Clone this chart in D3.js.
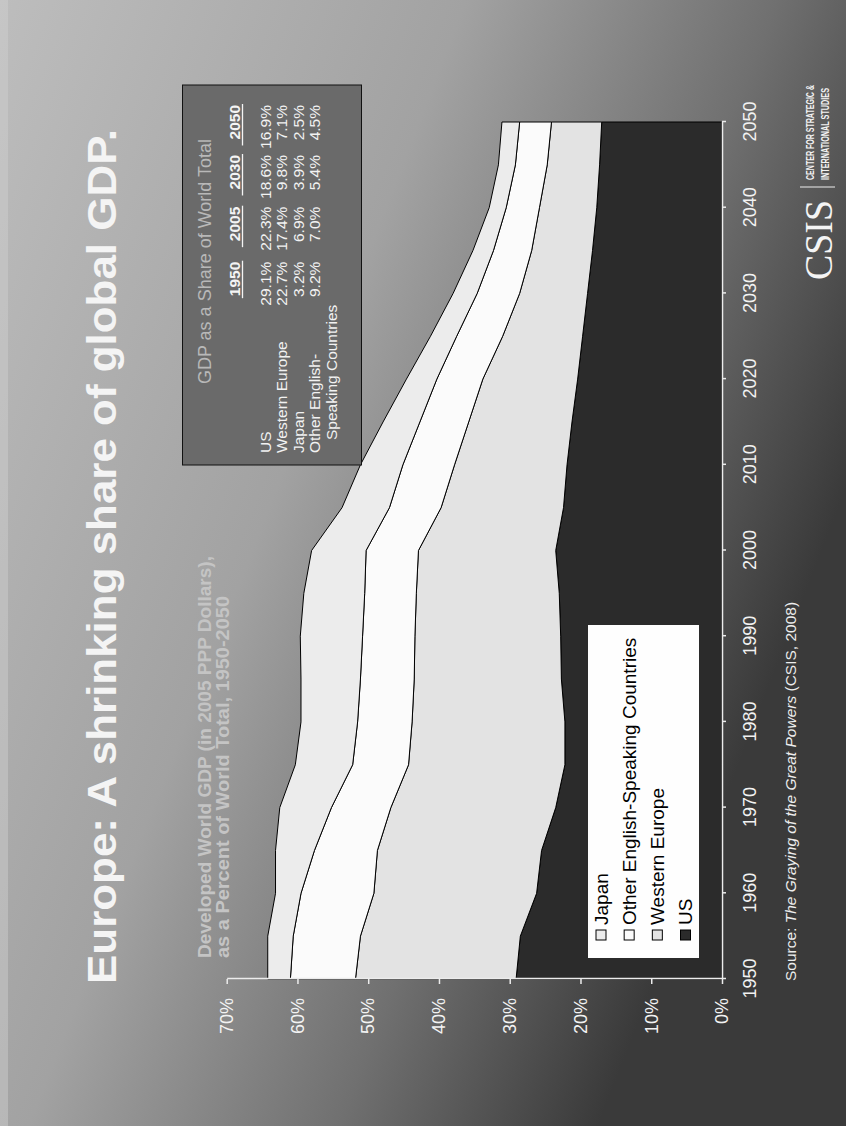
<!DOCTYPE html>
<html><head><meta charset="utf-8">
<script src="https://cdn.jsdelivr.net/npm/d3@7/dist/d3.min.js"></script>
<style>
html,body{margin:0;padding:0;background:#888;}
svg{display:block;}
text{font-family:"Liberation Sans",Arial,Helvetica,sans-serif;}
</style></head><body>
<svg id="c" width="846" height="1126"></svg>
<script>
// ---- data (share of world GDP, %) ----
const years = [1950,1955,1960,1965,1970,1975,1980,1985,1990,1995,2000,2005,2010,2015,2020,2025,2030,2035,2040,2045,2050];
const usShare            = [29.1,28.5,26.2,25.5,23.5,22.2,22.2,22.7,22.8,23.0,23.5,22.4,21.9,21.2,20.4,19.7,19.0,18.3,17.7,17.3,17.0];
const westernEuropeShare = [22.7,22.6,23.0,23.2,23.3,22.1,21.6,20.8,20.6,20.2,19.4,17.3,15.9,14.6,13.4,11.3,9.6,8.6,8.1,7.4,7.1];
const otherEnglishShare  = [9.2,9.5,10.3,8.9,8.4,7.9,7.7,7.6,7.4,7.3,7.4,7.3,7.3,6.9,6.5,6.5,6.0,5.4,4.7,4.5,4.5];
const japanShare         = [3.2,3.6,3.6,5.5,7.3,8.1,8.0,8.4,8.8,8.6,7.7,6.7,6.0,5.2,4.3,3.7,3.4,2.9,2.4,2.4,2.5];
const seriesKeys   = ["US","Western Europe","Other English-Speaking Countries","Japan"];
const legendOrder  = ["Japan","Other English-Speaking Countries","Western Europe","US"];
const yTicks = [0,10,20,30,40,50,60,70];
const xTicks = [1950,1960,1970,1980,1990,2000,2010,2020,2030,2040,2050];
const tableYears = ["1950","2005","2030","2050"];
const tableRows = [
  {label:["US"], values:["29.1%","22.3%","18.6%","16.9%"]},
  {label:["Western Europe"], values:["22.7%","17.4%","9.8%","7.1%"]},
  {label:["Japan"], values:["3.2%","6.9%","3.9%","2.5%"]},
  {label:["Other English-","Speaking Countries"], values:["9.2%","7.0%","5.4%","4.5%"]}
];

const W = 846, H = 1126;
const fills = {"US":"#2b2b2b","Western Europe":"#e3e3e3","Other English-Speaking Countries":"#fbfbfb","Japan":"#ececec"};

const svg = d3.select("#c");
const defs = svg.append("defs");
const g = defs.append("linearGradient").attr("id","bg").attr("gradientUnits","userSpaceOnUse")
  .attr("x1",0).attr("y1",0).attr("x2",900).attr("y2",350);
[[0,"#bdbdbd"],[0.45,"#a2a2a2"],[0.75,"#707070"],[1,"#3a3a3a"]].forEach(s=>g.append("stop").attr("offset",s[0]).attr("stop-color",s[1]));
svg.append("rect").attr("width",W).attr("height",H).attr("fill","url(#bg)");
svg.append("rect").attr("x",0).attr("y",0).attr("width",8).attr("height",H).attr("fill","#d0d0d0").attr("opacity",0.45);

// landscape slide, rotated
const slide = svg.append("g").attr("transform",`translate(0,${H}) rotate(-90)`);

const x = d3.scaleLinear().domain([1950,2050]).range([147,1004]);
const y = d3.scaleLinear().domain([0,70]).range([722,226.7]);

// title
slide.append("text").attr("x",142).attr("y",116).attr("font-size",40).attr("font-weight","bold")
  .attr("fill","#f4f4f4").attr("textLength",855).attr("lengthAdjust","spacingAndGlyphs")
  .text("Europe: A shrinking share of global GDP.");
const sub = slide.append("g").attr("fill","#c4c4c4").attr("font-size",17.5).attr("font-weight","bold");
sub.append("text").attr("x",168).attr("y",211).attr("textLength",402).attr("lengthAdjust","spacingAndGlyphs").text("Developed World GDP (in 2005 PPP Dollars),");
sub.append("text").attr("x",168).attr("y",229).attr("textLength",362).attr("lengthAdjust","spacingAndGlyphs").text("as a Percent of World Total, 1950-2050");

// stacked areas
const rows = years.map((yr,i)=>({year:yr,"US":usShare[i],"Western Europe":westernEuropeShare[i],
  "Other English-Speaking Countries":otherEnglishShare[i],"Japan":japanShare[i]}));
const stacked = d3.stack().keys(seriesKeys)(rows);
const area = d3.area().x(d=>x(d.data.year)).y0(d=>y(d[0])).y1(d=>y(d[1]));
slide.append("g").selectAll("path").data(stacked).join("path")
  .attr("d",area).attr("fill",d=>fills[d.key]).attr("stroke","#000").attr("stroke-width",1)
  .attr("stroke-linejoin","round");

// axes
const yAxis = d3.axisLeft(y).tickValues(yTicks).tickFormat(d=>d+"%").tickSize(5).tickSizeOuter(0).tickPadding(14);
const ya = slide.append("g").attr("transform","translate(147,0)").call(yAxis);
const xAxis = d3.axisBottom(x).tickValues(xTicks).tickFormat(d3.format("d")).tickSize(4).tickSizeOuter(0).tickPadding(17);
const xa = slide.append("g").attr("transform","translate(0,722)").call(xAxis);
[ya,xa].forEach(a=>{
  a.select(".domain").attr("stroke","#ececec").attr("stroke-width",1.5);
  a.selectAll(".tick line").attr("stroke","#ececec").attr("stroke-width",1.5);
  a.selectAll(".tick text").attr("fill","#f2f2f2").attr("font-size",18).attr("font-family",null);
});

// legend
const lg = slide.append("g");
lg.append("rect").attr("x",168).attr("y",588).attr("width",333).attr("height",111).attr("fill","#fefefe");
const legY = d3.scalePoint().domain(legendOrder).range([601,685.5]);
legendOrder.forEach(k=>{
  lg.append("rect").attr("x",186).attr("y",legY(k)-5).attr("width",10).attr("height",10)
    .attr("fill",fills[k]).attr("stroke","#000").attr("stroke-width",1);
  lg.append("text").attr("x",201).attr("y",legY(k)).attr("dy","0.36em").attr("font-size",19).attr("fill","#000").text(k);
});

// table box
const tb = slide.append("g");
tb.append("rect").attr("x",661).attr("y",182.5).attr("width",380).attr("height",179).attr("fill","#6a6a6a").attr("stroke","#111").attr("stroke-width",1);
tb.append("text").attr("x",864.5).attr("y",211).attr("text-anchor","middle").attr("font-size",18).attr("fill","#b8b8b8")
  .text("GDP as a Share of World Total");
const colX = [864.3,919.3,971,1021];
tableYears.forEach((t,i)=>{
  const tx = tb.append("text").attr("x",colX[i]).attr("y",240).attr("text-anchor","end").attr("font-size",15.5)
    .attr("font-weight","bold").attr("fill","#f4f4f4").text(t);
  const w = tx.node().getComputedTextLength();
  tb.append("line").attr("x1",colX[i]-w-(i==0?2:6)).attr("x2",colX[i]+1).attr("y1",242.5).attr("y2",242.5)
    .attr("stroke","#f4f4f4").attr("stroke-width",1.3);
});
const rowY = [270.5,287,303.5,320];
tableRows.forEach((r,i)=>{
  r.label.forEach((l,j)=>tb.append("text").attr("x",j?686:673).attr("y",rowY[i]+j*16.7).attr("font-size",15.5).attr("fill","#f2f2f2").text(l));
  r.values.forEach((v,j)=>tb.append("text").attr("x",colX[j]).attr("y",rowY[i]).attr("text-anchor","end").attr("font-size",15.5).attr("fill","#f2f2f2").text(v));
});

// source
const src = slide.append("text").attr("x",145).attr("y",796).attr("font-size",15.5).attr("fill","#ededed");
src.append("tspan").text("Source: ");
src.append("tspan").attr("font-style","italic").text("The Graying of the Great Powers");
src.append("tspan").text(" (CSIS, 2008)");

// logo
slide.append("text").attr("x",846).attr("y",832).attr("font-size",40)
  .attr("fill","#f4f4f4").attr("textLength",80).attr("lengthAdjust","spacingAndGlyphs").style("font-family","'Liberation Serif',serif").text("CSIS");
slide.append("line").attr("x1",939).attr("x2",939).attr("y1",800).attr("y2",835).attr("stroke","#eee").attr("stroke-width",1.2);
slide.append("text").attr("x",946).attr("y",814).attr("font-size",11).attr("font-weight","bold").attr("fill","#f4f4f4")
  .attr("textLength",95).attr("lengthAdjust","spacingAndGlyphs").text("CENTER FOR STRATEGIC &");
slide.append("text").attr("x",946).attr("y",829).attr("font-size",11).attr("font-weight","bold").attr("fill","#f4f4f4")
  .attr("textLength",92).attr("lengthAdjust","spacingAndGlyphs").text("INTERNATIONAL STUDIES");
</script>
</body></html>
